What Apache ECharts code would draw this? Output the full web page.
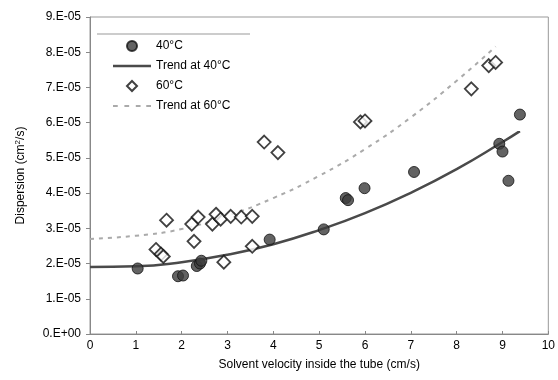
<!DOCTYPE html>
<html>
<head>
<meta charset="utf-8">
<script src="https://cdn.jsdelivr.net/npm/echarts@6/dist/echarts.min.js"></script>
<style>
  html, body { margin: 0; padding: 0; background: #fff; }
  #chart { width: 558px; height: 380px; }
</style>
</head>
<body>
<div id="chart"></div>
<script>
// 40°C measurements
const vel40 = [1.04, 1.92, 2.03, 2.33, 2.40, 2.43, 3.92, 5.10, 5.58, 5.63, 5.99, 7.07, 8.93, 9.00, 9.13, 9.38]
const disp40 = [1.86e-5, 1.64e-5, 1.66e-5, 1.93e-5, 2.00e-5, 2.08e-5, 2.68e-5, 2.97e-5, 3.86e-5, 3.80e-5, 4.14e-5, 4.60e-5, 5.40e-5, 5.18e-5, 4.35e-5, 6.23e-5]

// 60°C measurements
const vel60 = [1.44, 1.55, 1.60, 1.67, 2.22, 2.27, 2.36, 2.67, 2.75, 2.85, 2.92, 3.07, 3.30, 3.54, 3.54, 3.80, 4.10, 5.90, 6.00, 8.32, 8.70, 8.85]
const disp60 = [2.40e-5, 2.27e-5, 2.20e-5, 3.23e-5, 3.12e-5, 2.63e-5, 3.32e-5, 3.12e-5, 3.40e-5, 3.26e-5, 2.04e-5, 3.34e-5, 3.32e-5, 3.34e-5, 2.49e-5, 5.45e-5, 5.15e-5, 6.02e-5, 6.05e-5, 6.96e-5, 7.62e-5, 7.71e-5]

// trend lines
const trendVel40 = [0, 1, 2, 3, 4, 5, 6, 7, 8, 9, 9.38]
const trendDisp40 = [1.90e-5, 1.92e-5, 2.04e-5, 2.25e-5, 2.55e-5, 2.95e-5, 3.43e-5, 4.01e-5, 4.68e-5, 5.45e-5, 5.76e-5]
const trendVel60 = [0, 1, 2, 3, 4, 5, 6, 7, 8, 8.85]
const trendDisp60 = [2.70e-5, 2.79e-5, 2.98e-5, 3.36e-5, 3.86e-5, 4.49e-5, 5.25e-5, 6.15e-5, 7.19e-5, 8.16e-5]

const FONT = 'Liberation Sans, Arial, sans-serif'

// legend icons
const ICON_SOLID = 'path://M0,0H40V2.5H0Z'
const ICON_DASH = 'path://M0,0H5V2H0Z M12,0H17V2H12Z M24,0H29V2H24Z M35,0H40V2H35Z'
const ICON_DIAMOND = 'path://M5,0L10,5L5,10L0,5Z'

function pairs(xs, ys) {
  return xs.map((x, i) => [x, ys[i]])
}

function yLabel(v) {
  const n = Math.round(v * 1e5)
  return n === 0 ? '0.E+00' : n + '.E-05'
}

const chart = echarts.init(document.getElementById('chart'))

const option = {
  animation: false,
  textStyle: {fontFamily: FONT},
  grid: {
    left: 90,
    right: 8,
    top: 17,
    bottom: 46,
    show: true,
    borderColor: '#999',
    borderWidth: 1
  },
  legend: {
    orient: 'vertical',
    left: 108,
    top: 35,
    itemWidth: 38,
    itemHeight: 10,
    itemGap: 8,
    symbolKeepAspect: true,
    textStyle: {fontFamily: FONT, fontSize: 12, color: '#000'},
    data: [
      {name: '40°C', icon: 'circle'},
      {name: 'Trend at 40°C', icon: ICON_SOLID},
      {name: '60°C', icon: ICON_DIAMOND},
      {name: 'Trend at 60°C', icon: ICON_DASH}
    ]
  },
  graphic: [{
    type: 'line',
    shape: {x1: 97, y1: 34, x2: 250, y2: 34},
    style: {stroke: '#999', lineWidth: 1}
  }],
  xAxis: {
    type: 'value',
    min: 0,
    max: 10,
    interval: 1,
    name: 'Solvent velocity inside the tube (cm/s)',
    nameLocation: 'middle',
    nameGap: 25,
    nameTextStyle: {fontFamily: FONT, fontSize: 12, color: '#000'},
    axisLine: {lineStyle: {color: '#888'}},
    axisTick: {inside: true, length: 3, lineStyle: {color: '#888'}},
    axisLabel: {fontFamily: FONT, fontSize: 12, color: '#000', margin: 6},
    splitLine: {show: false}
  },
  yAxis: {
    type: 'value',
    min: 0,
    max: 9e-5,
    interval: 1e-5,
    name: 'Dispersion (cm{sup|2}/s)',
    nameLocation: 'middle',
    nameGap: 62,
    nameRotate: 90,
    nameTextStyle: {
      fontFamily: FONT, fontSize: 12, color: '#000',
      rich: {sup: {fontFamily: FONT, fontSize: 8, verticalAlign: 'top', padding: [0, 0, 6, 0], color: '#000'}}
    },
    axisLine: {show: true, lineStyle: {color: '#888'}},
    axisTick: {show: true, length: 4, lineStyle: {color: '#888'}},
    axisLabel: {fontFamily: FONT, fontSize: 12, color: '#000', margin: 9, formatter: yLabel},
    splitLine: {show: false}
  },
  series: [
    {
      name: 'Trend at 40°C',
      type: 'line',
      smooth: true,
      symbol: 'none',
      z: 2,
      lineStyle: {color: '#4a4a4a', width: 2.5},
      itemStyle: {color: '#4a4a4a'},
      data: pairs(trendVel40, trendDisp40)
    },
    {
      name: 'Trend at 60°C',
      type: 'line',
      smooth: true,
      symbol: 'none',
      z: 2,
      lineStyle: {color: '#aaa', width: 2, type: [4, 5]},
      itemStyle: {color: '#aaa'},
      data: pairs(trendVel60, trendDisp60)
    },
    {
      name: '40°C',
      type: 'scatter',
      symbol: 'circle',
      symbolSize: 11,
      z: 3,
      itemStyle: {color: '#3c3c3c', borderColor: '#111', borderWidth: 1},
      data: pairs(vel40, disp40)
    },
    {
      name: '60°C',
      type: 'scatter',
      symbol: 'diamond',
      symbolSize: [13, 13],
      z: 4,
      itemStyle: {color: '#fff', borderColor: '#111', borderWidth: 1.8},
      data: pairs(vel60, disp60)
    }
  ]
}

chart.setOption(option)
</script>
</body>
</html>
